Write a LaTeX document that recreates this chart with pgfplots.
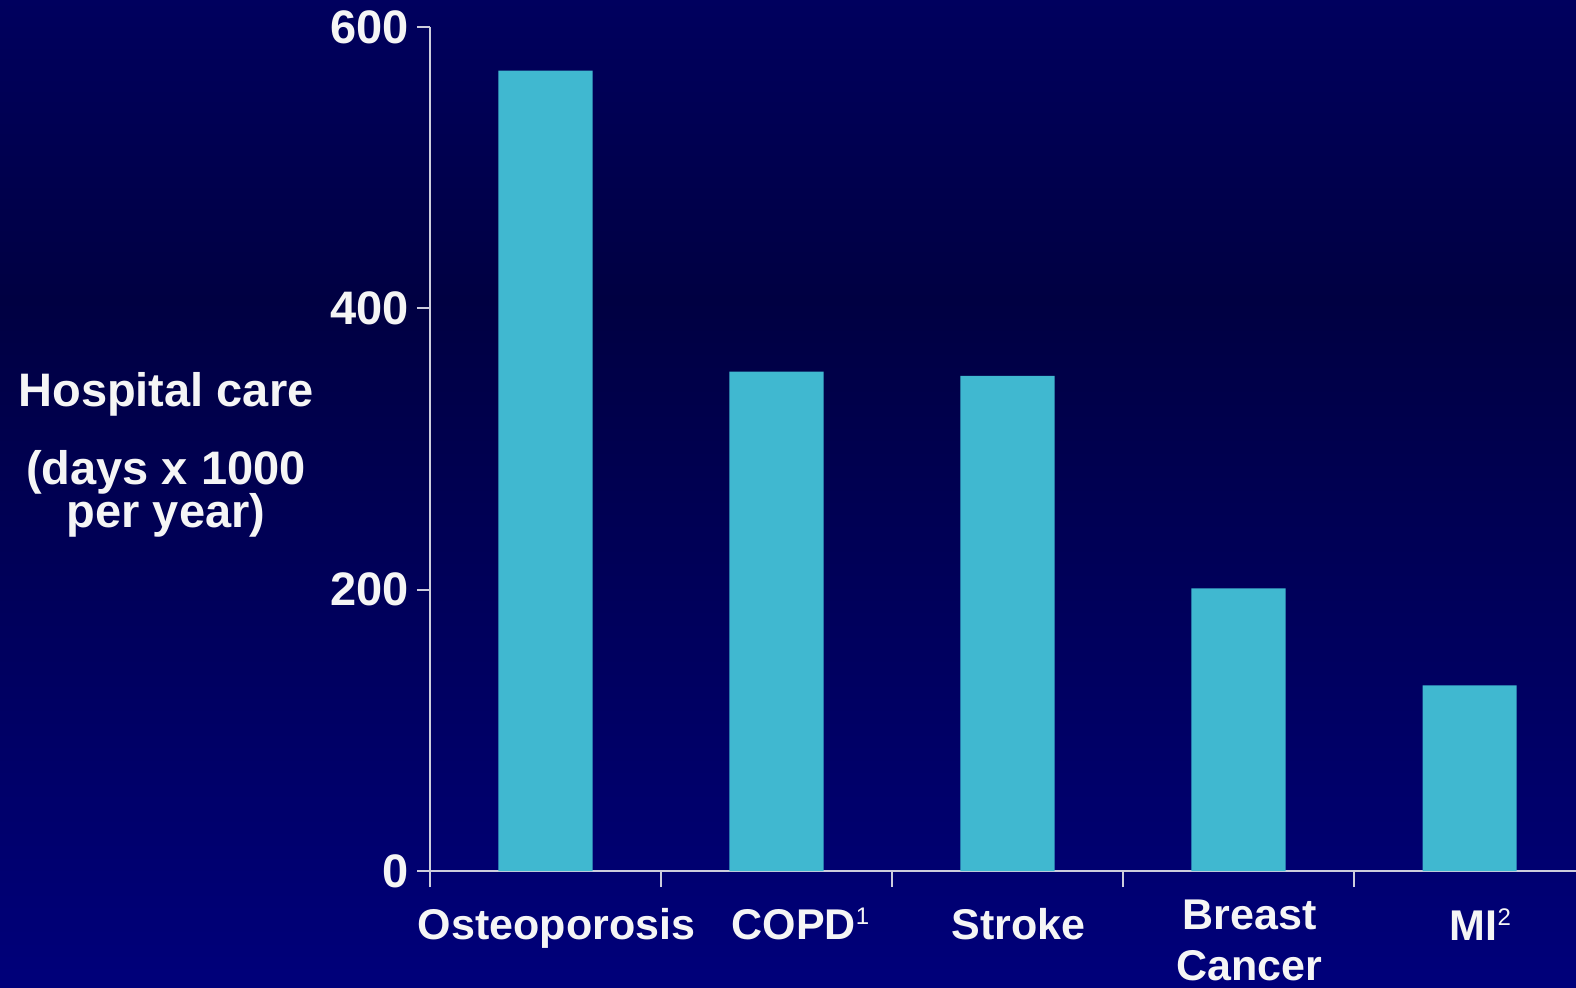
\documentclass[border=0pt]{standalone}
\usepackage{pgfplots}
\pgfplotsset{compat=1.18}
\usepackage{fontspec}
\setmainfont{Liberation Sans}
\definecolor{bgtop}{RGB}{0,0,94}
\definecolor{bgmid}{RGB}{0,0,66}
\definecolor{bgbot}{RGB}{0,0,122}
\definecolor{barc}{RGB}{64,184,208}
\definecolor{axc}{RGB}{205,205,220}
\definecolor{txt}{RGB}{245,245,245}
\newcommand{\supnum}[1]{\raisebox{7.5pt}{\fontsize{12}{12}\selectfont\mdseries #1}}
\begin{document}
\begin{tikzpicture}
\shade[top color=bgtop, bottom color=bgmid] (0pt,343.5pt) rectangle (788pt,493.5pt);
\shade[top color=bgmid, bottom color=bgbot] (0pt,0pt) rectangle (788pt,343.6pt);
\useasboundingbox (0pt,0pt) rectangle (788pt,493.5pt);
\begin{axis}[
  at={(215pt,58pt)}, anchor=south west,
  scale only axis, width=577.5pt, height=422pt,
  xmin=-0.5, xmax=4.5, ymin=0, ymax=600,
  axis x line=bottom, axis y line=left,
  axis line style={-, axc, line width=1pt},
  ybar, bar width=0.407,
  ytick={0,200,400,600},
  xtick={0,1,2,4},
  xticklabels={Osteoporosis, \hspace*{13pt}COPD\supnum{1}, Stroke, MI\supnum{2}},
  extra x ticks={3},
  extra x tick labels={Breast\\Cancer},
  extra x tick style={major x tick style={draw=none}, xticklabel style={yshift=4pt}},
  minor xtick={-0.5,0.5,1.5,2.5,3.5,4.5},
  tick align=outside,
  major tick length=6.5pt,
  minor tick length=8pt,
  tick style={axc, line width=1pt},
  major x tick style={draw=none},
  /pgf/number format/assume math mode=true,
  yticklabel style={font=\fontsize{23.5}{28}\selectfont\bfseries, text=txt, inner sep=0pt, anchor=east, xshift=-4pt},
  xticklabel style={font=\fontsize{21.5}{25.5}\selectfont\bfseries, text=txt, align=center, inner sep=0pt, anchor=north, yshift=-12pt, xshift=5.5pt},
]
\addplot[fill=barc, draw=none] coordinates {(0,569) (1,355) (2,352) (3,201) (4,132)};
\end{axis}
\node[anchor=base, text=txt, font=\fontsize{23.5}{28}\selectfont\bfseries] at (83pt,290pt) {Hospital care};
\node[anchor=base, text=txt, font=\fontsize{23.5}{28}\selectfont\bfseries] at (83pt,251pt) {(days x 1000};
\node[anchor=base, text=txt, font=\fontsize{23.5}{28}\selectfont\bfseries] at (83pt,229.5pt) {per year)};
\end{tikzpicture}
\end{document}
